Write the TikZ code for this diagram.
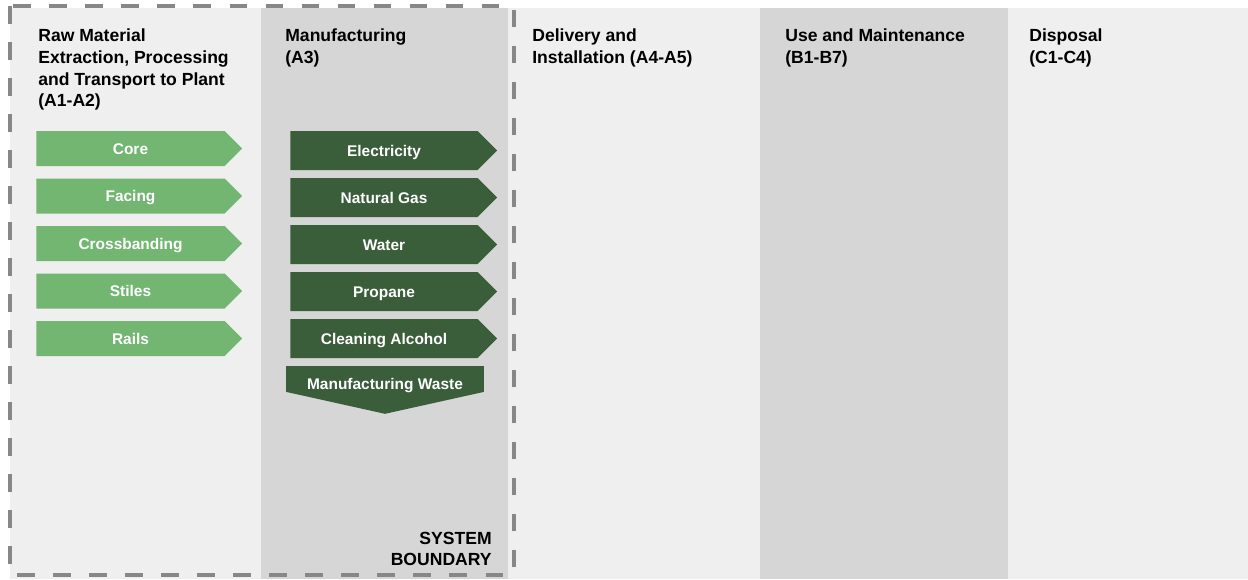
\documentclass[tikz,border=0pt]{standalone}
\usepackage{fontspec}
\setmainfont{Liberation Sans}
\usetikzlibrary{shapes.symbols}
\definecolor{panellight}{HTML}{EFEFEF}
\definecolor{paneldark}{HTML}{D6D6D6}
\definecolor{rawgreen}{HTML}{72B672}
\definecolor{mfggreen}{HTML}{3A5D3A}
\definecolor{boundgray}{HTML}{878787}
\begin{document}
\begin{tikzpicture}[x=0.02cm, y=-0.02cm,
    stage/.style={anchor=north west, align=left, inner sep=0pt, font=\bfseries\fontsize{10}{12.5}\selectfont},
    flow/.style={shape=signal, signal to=east, signal pointer angle=90, inner sep=0pt, text=white,
                 text height=6.3pt, text depth=0pt, font=\bfseries\fontsize{8.8}{10}\selectfont},
    raw flow/.style={flow, fill=rawgreen, minimum width=4.12cm, minimum height=0.70cm},
    mfg flow/.style={flow, fill=mfggreen, minimum width=4.14cm, minimum height=0.78cm}]
  \useasboundingbox (0,0) rectangle (1248,579);
  % life cycle stages
  \fill[panellight] (10,8) rectangle (261,579);
  \fill[paneldark] (261,8) rectangle (508,579);
  \fill[panellight] (508,8) rectangle (760,579);
  \fill[paneldark] (760,8) rectangle (1008,579);
  \fill[panellight] (1008,8) rectangle (1248,579);
  \node[stage] (rawmat) at (38,28) {Raw Material\\Extraction, Processing\\and Transport to Plant\\(A1-A2)};
  \node[stage] (manuf) at (285,28) {Manufacturing\\(A3)};
  \node[stage] (deliv) at (532,28) {Delivery and\\Installation (A4-A5)};
  \node[stage] (usemaint) at (785,28) {Use and Maintenance\\(B1-B7)};
  \node[stage] (dispos) at (1029,28) {Disposal\\(C1-C4)};
  % inputs
  \foreach \lbl [count=\i] in {Core,Facing,Crossbanding,Stiles,Rails}{
    \node[raw flow] (raw\i) at (130.5,{148.5+47.5*(\i-1)}) {\lbl};
  }
  \foreach \lbl [count=\i] in {Electricity,Natural Gas,Water,Propane,Cleaning Alcohol}{
    \node[mfg flow] (mfg\i) at (384,{150.5+47*(\i-1)}) {\lbl};
  }
  \node[flow, fill=mfggreen, signal to=south, signal pointer angle=155, text height=12pt,
        minimum width=3.96cm, minimum height=0.86cm] (waste) at (385,379) {Manufacturing Waste};
  % system boundary
  \draw[boundgray, line width=2.8pt, dash pattern=on 10pt off 10.5pt] (10,6) rectangle (514,575);
  \node[anchor=south east, align=right, inner sep=0pt, font=\bfseries\fontsize{10}{12}\selectfont] (sysbound) at (492,566) {SYSTEM\\BOUNDARY};
\end{tikzpicture}
\end{document}
